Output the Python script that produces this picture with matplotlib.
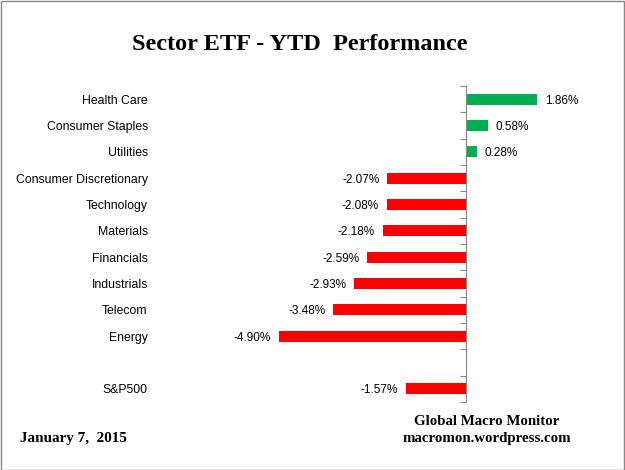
import numpy as np
import matplotlib.pyplot as plt

sectors = ['Health Care', 'Consumer Staples', 'Utilities', 'Consumer Discretionary',
           'Technology', 'Materials', 'Financials', 'Industrials', 'Telecom', 'Energy',
           '', 'S&P500']
ytd = [1.86, 0.58, 0.28, -2.07, -2.08, -2.18, -2.59, -2.93, -3.48, -4.90, np.nan, -1.57]

green = '#00B050'
red = '#FF0000'
axis_gray = '#868686'

fig = plt.figure(figsize=(6.25, 4.70), dpi=100)
ax = fig.add_axes([0.2566, 0.1447, 0.6723, 0.817 - 0.1447])

y = np.arange(len(sectors))
vals = np.array(ytd)
colors = [green if v > 0 else red for v in np.nan_to_num(vals)]
ax.barh(y, np.nan_to_num(vals), height=0.41, color=colors)

# value labels just past the bar ends
for yi, v in zip(y, vals):
    if np.isnan(v):
        continue
    if v >= 0:
        ax.text(v + 0.2, yi, f'{v:.2f}%', va='center_baseline', ha='left', fontsize=8.5,
                family='Liberation Sans')
    else:
        ax.text(v - 0.2, yi, f'{v:.2f}%', va='center_baseline', ha='right', fontsize=8.5,
                family='Liberation Sans')

ax.set_xlim(-8, 3)
ax.set_ylim(len(sectors) - 0.5, -0.5)
ax.set_yticks(y)
ax.set_yticklabels(sectors, fontsize=8.8, family='Liberation Sans')
ax.tick_params(axis='y', length=0, pad=9)
ax.set_xticks([])
for s in ax.spines.values():
    s.set_visible(False)

# category axis at zero with boundary ticks
ax2 = ax.twinx()
ax2.set_ylim(ax.get_ylim())
ax2.spines['right'].set_position(('data', 0))
ax2.spines['right'].set_color(axis_gray)
for s in ['left', 'top', 'bottom']:
    ax2.spines[s].set_visible(False)
ax2.set_yticks(np.arange(len(sectors) + 1) - 0.5)
ax2.set_yticklabels([])
ax2.tick_params(axis='y', direction='in', length=4, color=axis_gray)
ax2.set_xticks([])

fig.text(0.48, 0.905, 'Sector ETF - YTD  Performance', ha='center', va='center',
         fontsize=17.5, fontweight='bold', family='Liberation Serif')
fig.text(0.779, 0.104, 'Global Macro Monitor', ha='center', va='center',
         fontsize=10.7, fontweight='bold', family='Liberation Serif')
fig.text(0.779, 0.068, 'macromon.wordpress.com', ha='center', va='center',
         fontsize=10.7, fontweight='bold', family='Liberation Serif')
fig.text(0.032, 0.068, 'January 7,  2015', ha='left', va='center',
         fontsize=10.9, fontweight='bold', family='Liberation Serif')

fig.patches.append(plt.Rectangle((0.001, 0.001), 0.997, 0.996, transform=fig.transFigure,
                                 fill=False, edgecolor='#888888', linewidth=1))

fig.savefig('out.png', dpi=100)
